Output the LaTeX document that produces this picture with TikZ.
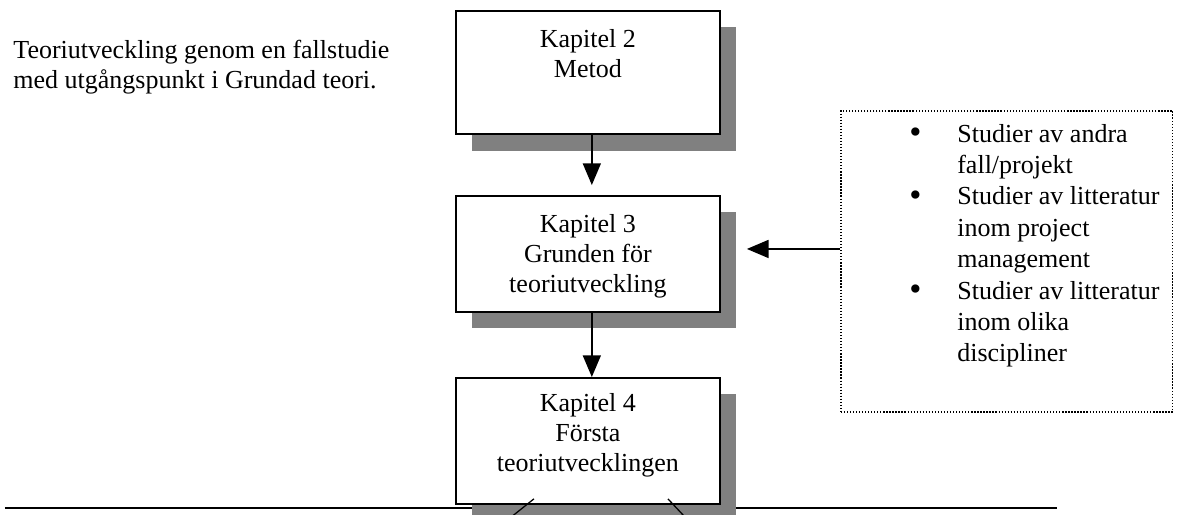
\documentclass[tikz,border=0pt]{standalone}
\usepackage{fontspec}
\setmainfont{Liberation Serif}
\usetikzlibrary{positioning,shadows,arrows.meta}

\tikzset{
	chapbox/.style={draw, line width=0.9pt, fill=white, anchor=north west,
		minimum width=121.8pt, inner sep=0pt,
		drop shadow={shadow xshift=7.6pt, shadow yshift=-7.6pt, fill=black!50, opacity=1}},
	chaptext/.style={align=center, inner sep=0pt},
	arr/.style={line width=0.7pt, -{Triangle[length=10pt,width=8.3pt]}},
	litbox/.style={draw, line width=0.7pt, dash pattern=on 0.6pt off 0.8pt,
		anchor=north west, inner sep=0pt},
}
\newcommand{\litbullet}{\raisebox{-0.6pt}{\fontsize{16}{0}\selectfont\textbullet}}

\begin{document}
\begin{tikzpicture}[x=0.4615pt, y=-0.4615pt, font=\fontsize{12}{13.8}\selectfont]
	\useasboundingbox (0,0) rectangle (1188,514);
	\clip (0,0) rectangle (1188,514);

	\node[anchor=north west, align=left, inner sep=0pt] (intro) at (13,40)
		{Teoriutveckling genom en fallstudie\\med utgångspunkt i Grundad teori.};

	% linjen under
	\draw[line width=0.5pt] (5,508) coordinate (rulel) -- (1057,508) coordinate (ruler);

	\node[chapbox, minimum height=56.8pt] (k2) at (455,10) {};
	\node[chapbox, minimum height=53.5pt] (k3) at (455,195) {};
	\node[chapbox, minimum height=58.1pt] (k4) at (455,377) {};

	\node[chaptext, below=8.9pt of k2.north] (k2t) {Kapitel 2\\Metod};
	\node[chaptext, below=8.9pt of k3.north] (k3t) {Kapitel 3\\Grunden för\\teoriutveckling};
	\node[chaptext, below=7.6pt of k4.north] (k4t) {Kapitel 4\\Första\\teoriutvecklingen};

	\node[litbox, minimum width=153.2pt, minimum height=138.9pt] (lit) at (840,110) {};
	\node[anchor=base west, inner sep=0pt] (littext) at (909,142)
		{\fontsize{12}{14.5}\selectfont
		\begin{tabular}[t]{@{}p{22.1pt}@{}l@{}}
			\litbullet & Studier av andra\\
			& fall/projekt\\
			\litbullet & Studier av litteratur\\
			& inom project\\
			& management\\
			\litbullet & Studier av litteratur\\
			& inom olika\\
			& discipliner
		\end{tabular}};

	\draw[arr, shorten >=4.6pt] ([xshift=1.8pt]k2.south) -- ([xshift=1.8pt]k3.north);
	\draw[arr] ([xshift=1.8pt]k3.south) -- ([xshift=1.8pt]k4.north);
	\draw[arr, shorten >=12pt] ([yshift=2.3pt]lit.west |- k3.east) -- ([yshift=2.3pt]k3.east);

	\draw[line width=0.6pt] ([shift={(-54,-6)}]k4.south) -- ++(-30,24);
	\draw[line width=0.6pt] ([shift={(80,-6)}]k4.south) -- ++(22.5,24);
\end{tikzpicture}
\end{document}
